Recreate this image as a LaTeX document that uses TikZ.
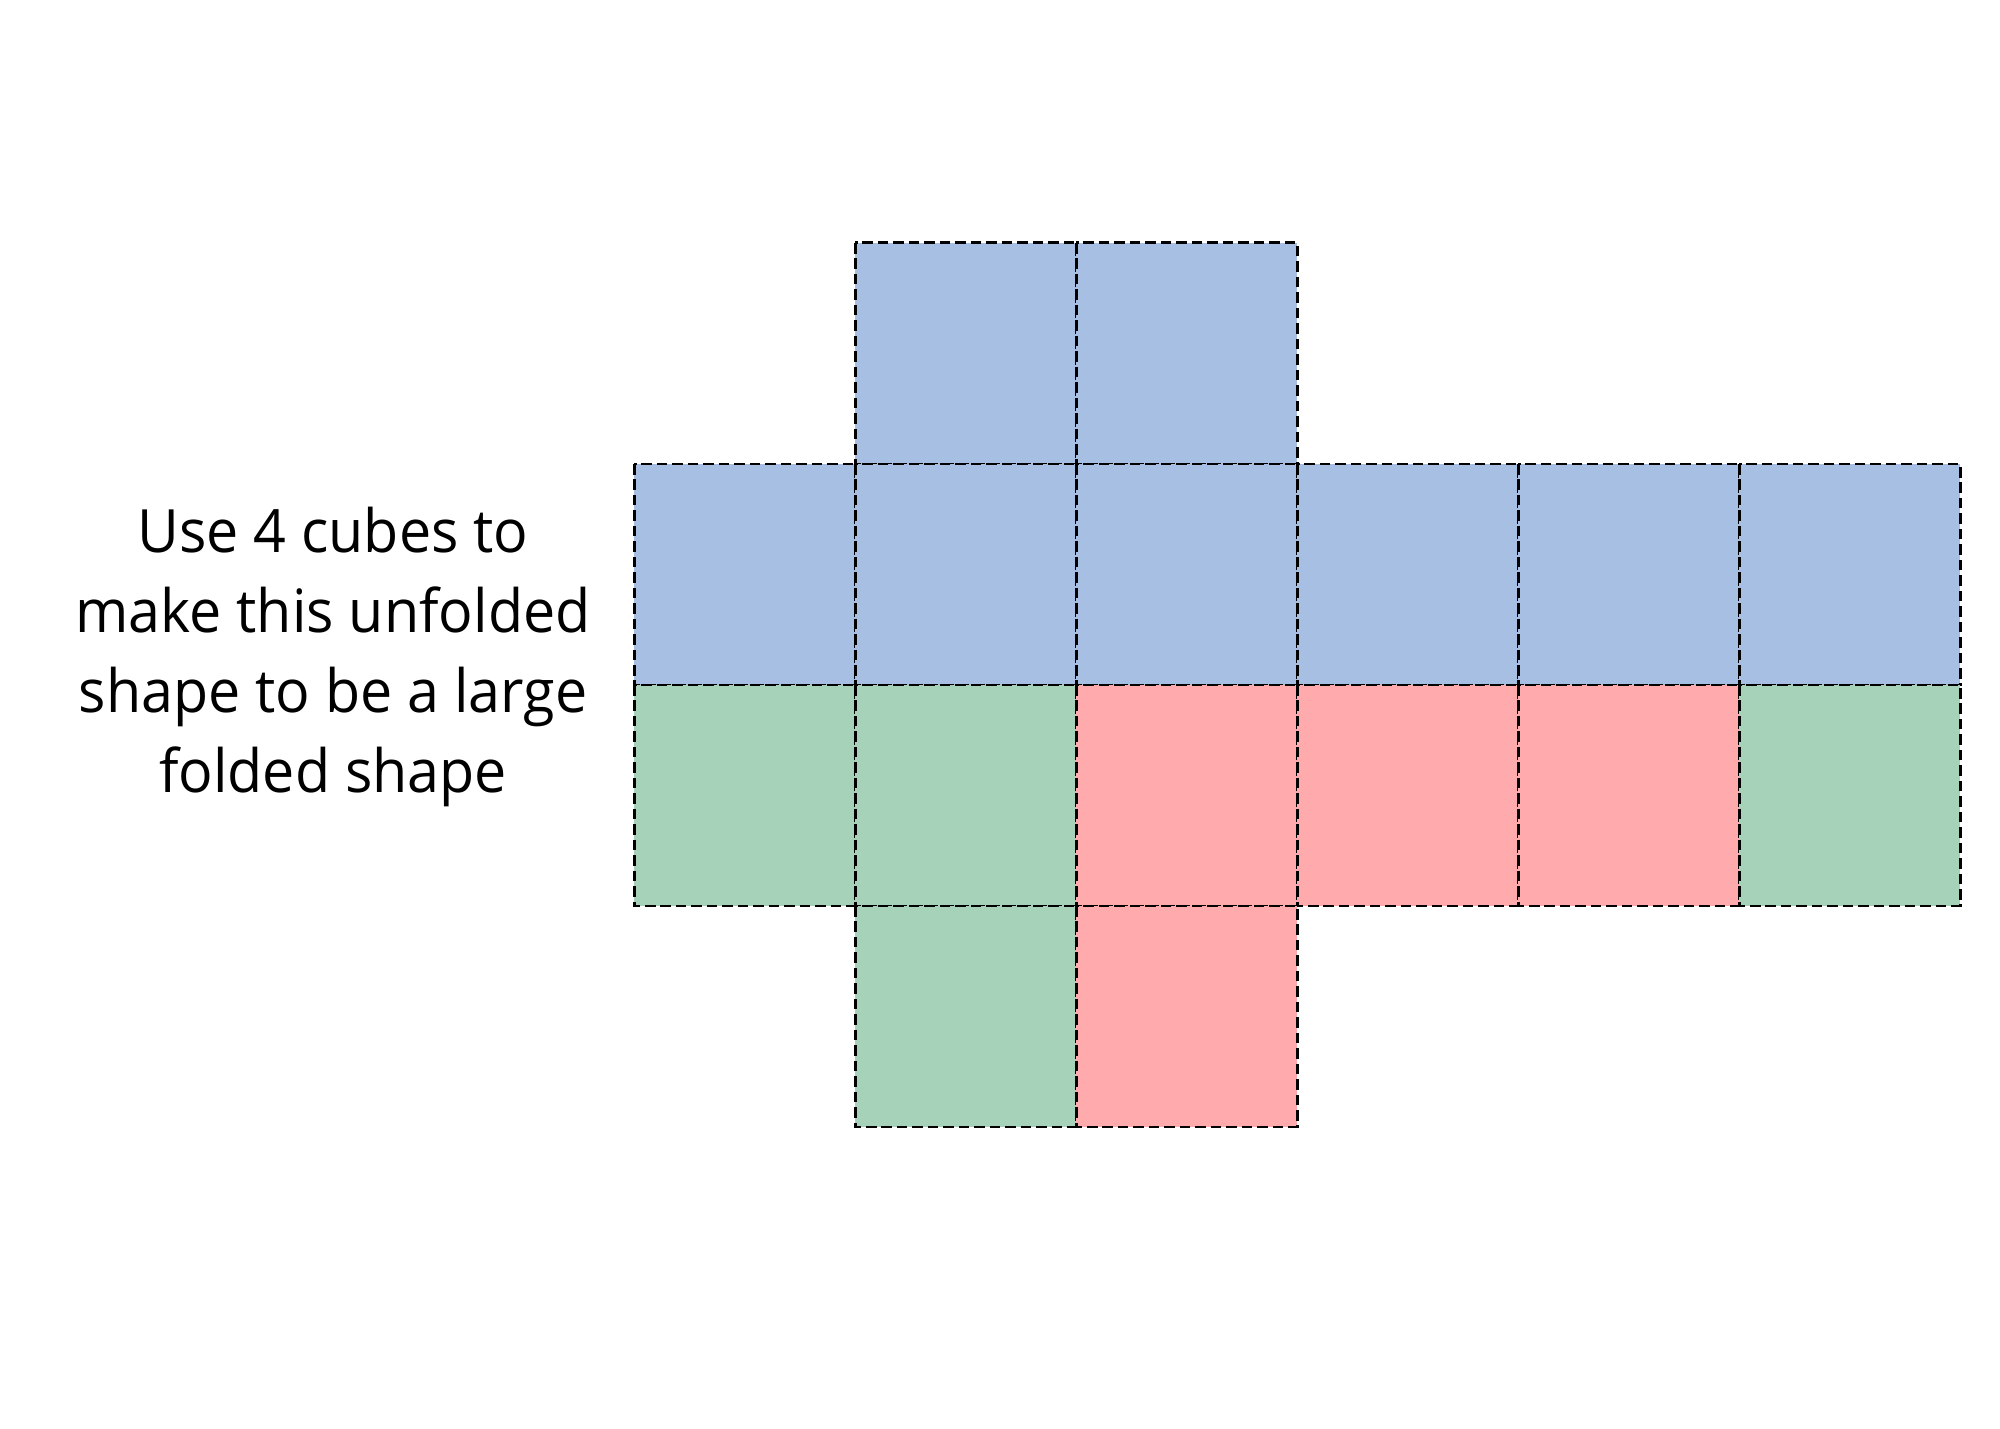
\documentclass[tikz,border=0pt]{standalone}
\usepackage{fontspec}
\setmainfont[FakeStretch=0.96]{Open Sans}
\usepackage{xcolor}
\usepackage{tikz}
\usetikzlibrary{positioning}
\definecolor{faceblue}{RGB}{166,191,227}
\definecolor{facegreen}{RGB}{167,210,186}
\definecolor{facered}{RGB}{255,171,174}
\tikzset{
  cell/.style={draw=black, dash pattern=on 3pt off 1.4pt, line width=0.85pt},
  bluecell/.style={cell, fill=faceblue},
  greencell/.style={cell, fill=facegreen},
  redcell/.style={cell, fill=facered},
  task/.style={align=center, font=\fontsize{17}{22.8}\selectfont, inner sep=0pt}
}
\begin{document}
\begin{tikzpicture}
\useasboundingbox (0,0) rectangle (20,14.28);
\node[task] (task) at (3.33,7.71) {Use 4 cubes to\\make this unfolded\\shape to be a large\\folded shape};
\begin{scope}[shift={(6.34,11.85)}, x=2.21cm, y=-2.21cm]
  % top row
  \foreach \c in {1,2}
    \path[bluecell] (\c,0) rectangle ++(1,1);
  % second row
  \foreach \c in {0,...,5}
    \path[bluecell] (\c,1) rectangle ++(1,1);
  % third row
  \foreach \c/\s in {0/greencell,1/greencell,2/redcell,3/redcell,4/redcell,5/greencell}
    \path[\s] (\c,2) rectangle ++(1,1);
  % bottom row
  \path[greencell] (1,3) rectangle ++(1,1);
  \path[redcell] (2,3) rectangle ++(1,1);
\end{scope}
\end{tikzpicture}
\end{document}
